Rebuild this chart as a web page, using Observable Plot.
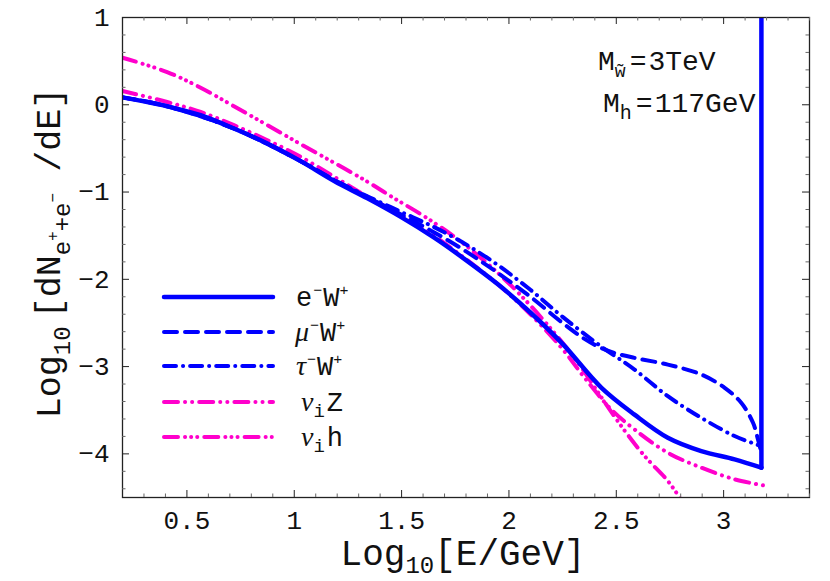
<!DOCTYPE html>
<html><head><meta charset="utf-8">
<script src="https://cdn.jsdelivr.net/npm/d3@7"></script>
<script src="https://cdn.jsdelivr.net/npm/@observablehq/plot@0.6"></script>
<style>body{margin:0;background:#fff} svg{display:block}</style>
</head><body><div id="chart"></div>
<script>
// ---- data ----
const xE = [0.2,0.3,0.408,0.564,0.719,0.875,1.03,1.186,1.341,1.5,1.65,1.8,1.95,2.1,2.25,2.43,2.585,2.74,2.896,3.051,3.176];
const yE = [0.085,0.04,-0.017,-0.12,-0.272,-0.444,-0.646,-0.874,-1.072,-1.29,-1.52,-1.78,-2.06,-2.38,-2.74,-3.24,-3.55,-3.815,-3.968,-4.063,-4.158];
const xSpike = [3.176,3.176];
const ySpike = [-4.158,1.3];
const xMu = [0.2,0.408,0.719,1.03,1.2,1.35,1.5,1.65,1.8,1.95,2.1,2.25,2.35,2.43,2.5,2.585,2.74,2.896,3.005,3.082,3.137,3.16,3.172];
const yMu = [0.085,-0.017,-0.272,-0.646,-0.88,-1.07,-1.26,-1.46,-1.68,-1.93,-2.2,-2.5,-2.68,-2.787,-2.85,-2.9,-2.977,-3.091,-3.243,-3.415,-3.644,-3.834,-3.95];
const xTau = [0.2,0.408,0.719,1.03,1.2,1.35,1.5,1.65,1.8,1.95,2.1,2.25,2.43,2.585,2.74,2.896,3.051,3.152,3.172];
const yTau = [0.085,-0.017,-0.272,-0.646,-0.88,-1.06,-1.23,-1.4,-1.6,-1.84,-2.12,-2.43,-2.77,-3.034,-3.339,-3.587,-3.796,-3.891,-3.91];
const xNuZ = [0.2,0.408,0.564,0.719,0.875,1.03,1.186,1.341,1.5,1.65,1.8,1.95,2.1,2.25,2.35,2.476,2.585,2.74,2.896,3.051,3.183];
const yNuZ = [0.158,0.032,-0.082,-0.234,-0.406,-0.597,-0.825,-1.053,-1.27,-1.5,-1.77,-2.06,-2.4,-2.8,-3.12,-3.49,-3.72,-3.987,-4.158,-4.291,-4.36];
const xNuH = [0.2,0.408,0.564,0.719,0.875,1.03,1.186,1.341,1.466,1.6,1.75,1.9,2.05,2.2,2.32,2.43,2.523,2.632,2.74,2.8];
const yNuH = [0.539,0.375,0.196,-0.017,-0.234,-0.451,-0.665,-0.882,-1.072,-1.27,-1.52,-1.82,-2.17,-2.58,-2.95,-3.35,-3.68,-4.025,-4.31,-4.52];

const xTicks = [0.5,1,1.5,2,2.5,3];
const yTicks = [1,0,-1,-2,-3,-4];
const xMinor = d3.range(3,35).map(i=>i/10).filter(v=>Math.abs(v*2-Math.round(v*2))>1e-6);
const yMinor = d3.range(-22,5).map(i=>i/5).filter(v=>Math.abs(v-Math.round(v))>1e-6);

const BLUE = "#0000ff", PINK = "#ff00cc";
const styles = {
  eW:  {stroke: BLUE, dash: null, w: 4.5},
  muW: {stroke: BLUE, dash: "13,8", w: 4},
  tauW:{stroke: BLUE, dash: "12,7,0.1,7", w: 4},
  nuZ: {stroke: PINK, dash: "14,7,0.1,7,0.1,7", w: 4},
  nuH: {stroke: PINK, dash: "14,7,0.1,6,0.1,6,0.1,7", w: 4}
};
const pts = (xs, ys) => xs.map((x,i)=>({x, y: ys[i]}));

const W=830, H=581, mL=122, mR=21, mT=17, mB=84;
const pw = W-mL-mR, ph = H-mT-mB;
const AX = "#222";

function curve(data, s, extra={}) {
  return Plot.line(data, {x:"x", y:"y", stroke: s.stroke, strokeWidth: s.w,
    strokeDasharray: s.dash, strokeLinecap: "round", strokeLinejoin: "round",
    curve: "catmull-rom", clip: true, ...extra});
}

const plot = Plot.plot({
  width: W, height: H, marginLeft: mL, marginRight: mR, marginTop: mT, marginBottom: mB,
  x: {domain: [0.2, 3.4]},
  y: {domain: [-4.5, 1]},
  style: {fontFamily: "'Liberation Mono', monospace", background: "#fff", color: "#111"},
  marks: [
    curve(pts(xNuH, yNuH), styles.nuH),
    curve(pts(xNuZ, yNuZ), styles.nuZ),
    curve(pts(xTau, yTau), styles.tauW),
    curve(pts(xMu, yMu), styles.muW),
    curve(pts(xE, yE), styles.eW),
    Plot.line(pts(xSpike, ySpike), {x:"x", y:"y", stroke: BLUE, strokeWidth: 4.5, clip: true, strokeLinejoin:"round"}),
    Plot.frame({stroke: AX, strokeWidth: 1.3}),
    Plot.tickX(xTicks, {x: d=>d, insetTop: ph-7, stroke: AX}),
    Plot.tickX(xMinor, {x: d=>d, insetTop: ph-3.5, stroke: "#666"}),
    Plot.tickX(xTicks, {x: d=>d, insetBottom: ph-7, stroke: AX}),
    Plot.tickX(xMinor, {x: d=>d, insetBottom: ph-3.5, stroke: "#666"}),
    Plot.tickY(yTicks, {y: d=>d, insetRight: pw-7, stroke: AX}),
    Plot.tickY(yMinor, {y: d=>d, insetRight: pw-3.5, stroke: "#666"}),
    Plot.tickY(yTicks, {y: d=>d, insetLeft: pw-7, stroke: AX}),
    Plot.tickY(yMinor, {y: d=>d, insetLeft: pw-3.5, stroke: "#666"}),
    Plot.axisX(xTicks, {tickSize: 0, tickPadding: 13, fontSize: 26, label: null, tickFormat: d=>String(d)}),
    Plot.axisY(yTicks, {tickSize: 0, tickPadding: 13, fontSize: 26, label: null, tickFormat: d => d < 0 ? "\u2212" + String(-d) : String(d)})
  ]
});
document.getElementById("chart").appendChild(plot);

const svg = d3.select(plot);
const MONO = "'Liberation Mono', monospace";
const SERIF_I = "'Liberation Serif', serif";

function rich(g, parts, attrs) {
  const t = g.append("text").attr("font-family", MONO).attr("fill", "#111").attr("text-anchor", "start");
  for (const k in attrs) t.attr(k, attrs[k]);
  for (const p of parts) {
    const s = t.append("tspan").text(p.t);
    if (p.size) s.attr("font-size", p.size);
    if (p.dy) s.attr("dy", p.dy);
    if (p.dx) s.attr("dx", p.dx);
    if (p.italic) s.attr("font-family", SERIF_I).attr("font-style", "italic");
  }
  return t;
}

// x-axis title
rich(svg, [
  {t: "Log", size: 36},
  {t: "10", size: 24, dy: 8},
  {t: "[E/GeV]", size: 36, dy: -8}
], {x: 463, y: 565, "text-anchor": "middle"});

// y-axis title
const gy = svg.append("g").attr("transform", `translate(60,${mT + ph/2 - 4}) rotate(-90)`);
rich(gy, [
  {t: "Log", size: 35},
  {t: "10", size: 24, dy: 10},
  {t: "[dN", size: 35, dy: -10, dx: 8},
  {t: "e", size: 24, dy: 10},
  {t: "+", size: 16, dy: -12},
  {t: "+e", size: 24, dy: 12},
  {t: "\u2212", size: 16, dy: -12},
  {t: " /dE]", size: 35, dy: 2}
], {x: 0, y: 0, "text-anchor": "middle"});

// annotations
rich(svg, [
  {t: "M", size: 28},
  {t: "w\u0303", size: 18, dy: 7},
  {t: "=", size: 28, dy: -7, dx: 4},
  {t: "3TeV", size: 28, dx: 2}
], {x: 598, y: 70});
rich(svg, [
  {t: "M", size: 28},
  {t: "h", size: 20, dy: 7},
  {t: "=", size: 28, dy: -7, dx: 4},
  {t: "117GeV", size: 28, dx: 2}
], {x: 603, y: 112});

// legend
const legend = [
  {key: "eW",  parts: [{t:"e"},{t:"\u2212",size:15,dy:-11,dx:1},{t:"W",dy:11,dx:1},{t:"+",size:15,dy:-11}]},
  {key: "muW", parts: [{t:"\u03bc",italic:true,size:28},{t:"\u2212",size:15,dy:-11,dx:1},{t:"W",dy:11,dx:1},{t:"+",size:15,dy:-11}]},
  {key: "tauW",parts: [{t:"\u03c4",italic:true,size:28},{t:"\u2212",size:15,dy:-11,dx:1},{t:"W",dy:11,dx:1},{t:"+",size:15,dy:-11}]},
  {key: "nuZ", parts: [{t:"\u03bd",italic:true,size:28},{t:"i",size:19,dy:6},{t:"Z",dy:-6,dx:2}]},
  {key: "nuH", parts: [{t:"\u03bd",italic:true,size:28},{t:"i",size:19,dy:6},{t:"h",dy:-6,dx:2}]}
];
const rows = [297, 332, 366, 402, 437];
const labelX = [296, 295, 296, 301, 301];
const lg = svg.append("g");
legend.forEach((L, i) => {
  const s = styles[L.key];
  lg.append("line").attr("x1", 164).attr("x2", 273).attr("y1", rows[i]).attr("y2", rows[i])
    .attr("stroke", s.stroke).attr("stroke-width", s.w)
    .attr("stroke-dasharray", s.dash).attr("stroke-linecap", "round");
  rich(lg, L.parts.map(p => ({size: 27, ...p})), {x: labelX[i], y: rows[i] + 9});
});
</script>
</body></html>
